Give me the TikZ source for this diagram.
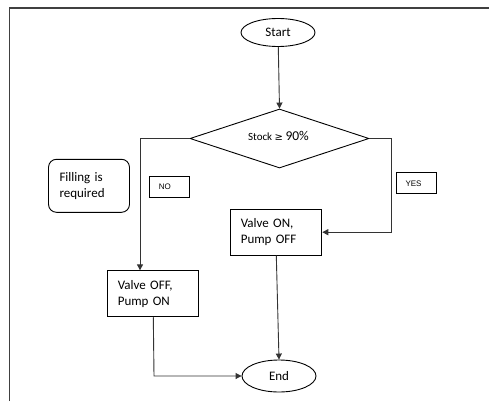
\documentclass[tikz,border=0pt]{standalone}
\usepackage{fontspec}
\setmainfont{Carlito}
\newfontfamily\arialfont{Liberation Sans}
\newfontfamily\symfont{DejaVu Sans}
\usetikzlibrary{shapes.geometric,arrows.meta,calc}
\tikzset{
  line/.style={draw=black!80, line width=0.9pt},
  arr/.style={line, -{Triangle[length=6pt,width=6pt]}},
  term/.style={ellipse, draw=black, line width=0.9pt, minimum width=74pt, minimum height=28pt, inner sep=0pt, font=\fontsize{13}{15}\selectfont},
  procbox/.style={rectangle, draw=black, line width=0.9pt, minimum height=46pt, inner xsep=10pt, align=left, font=\fontsize{13}{16}\selectfont},
  tagbox/.style={rectangle, draw=black, line width=0.9pt, minimum width=40pt, minimum height=21pt, inner xsep=9.5pt, align=left, font=\arialfont\fontsize{8}{9}\selectfont},
  decision/.style={diamond, draw=black, line width=0.9pt, minimum width=179pt, minimum height=59pt, aspect=3.05, inner sep=0pt}
}
\begin{document}
\begin{tikzpicture}[x=1pt,y=-1pt]
\useasboundingbox (0,0) rectangle (489,401);
\draw[draw=black!75, line width=1.6pt] (9.5,401) -- (9.5,8) -- (489,8);
\node[term] (start) at (278,32.5) {Start};
\node[decision] (dec) at (279.5,138.5) {};
\node[anchor=base, inner sep=0pt] (dectext) at (278.5,140.7) {\fontsize{11}{12}\selectfont Stock {\symfont\fontsize{10}{12}\selectfont ≥} \fontsize{13.5}{14}\selectfont 90\%};
\node[procbox, text width=71pt] (valveon) at (276.3,232.2) {Valve ON,\\Pump OFF};
\node[procbox, text width=71pt] (valveoff) at (153.3,293.8) {Valve OFF,\\Pump ON};
\node[term, minimum height=32pt] (end) at (279,376) {End};
\node[procbox, rounded corners=8pt, minimum height=53pt, text width=59pt, inner xsep=11pt] (fill) at (89,185.8) {Filling is\\required};
\node[tagbox, text width=21pt] (no) at (169.3,187.2) {NO};
\node[tagbox, text width=21pt] (yes) at (416,183.4) {YES};
\coordinate (lcorner) at (140,138.5);
\coordinate (rcorner) at (391.7,138.5);
\coordinate (bcorner) at (154,376);
\draw[arr] (start) -- (dec.north);
\draw[arr] (dec.west) -- (lcorner) -- (lcorner |- valveoff.north);
\draw[arr] (dec.east) -- (rcorner) -- (rcorner |- valveon.east) -- (valveon.east);
\draw[arr] (valveon.south) -- (end.north);
\draw[arr] (valveoff.south) -- (bcorner) -- (end.west);
\end{tikzpicture}
\end{document}
